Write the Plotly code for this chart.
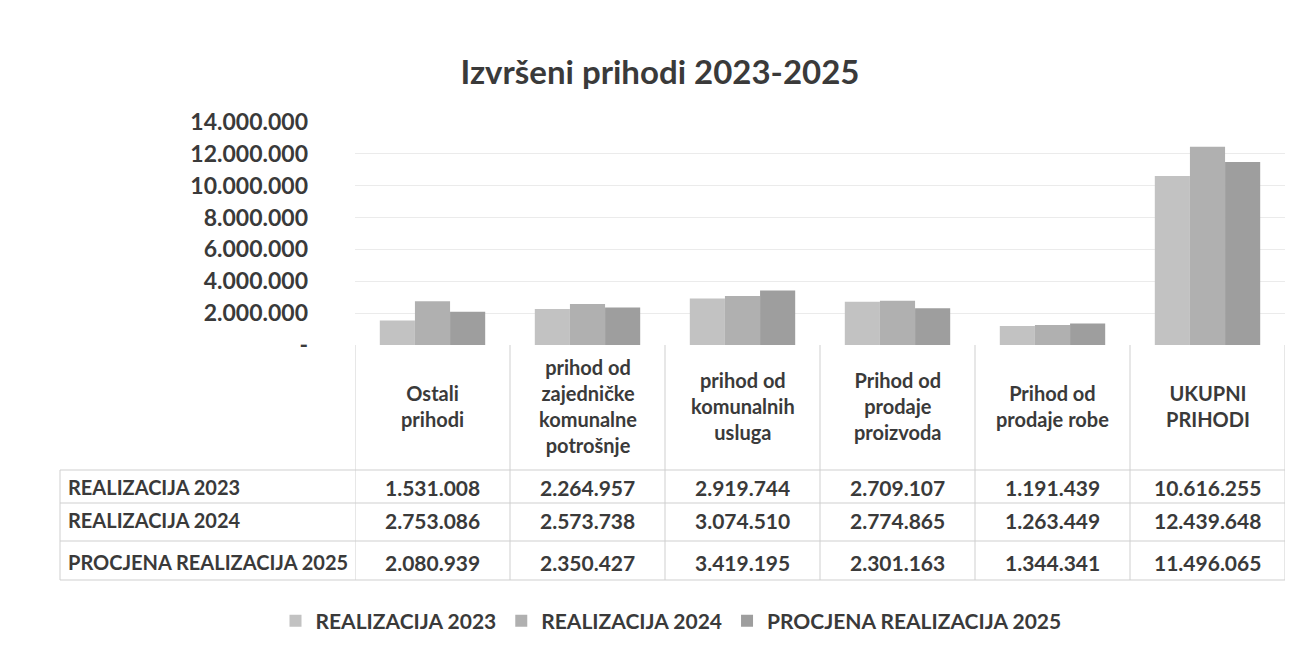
import plotly.graph_objects as go

categories = ["Ostali<br>prihodi", "prihod od<br>zajedničke<br>komunalne<br>potrošnje",
              "prihod od<br>komunalnih<br>usluga", "Prihod od<br>prodaje<br>proizvoda",
              "Prihod od<br>prodaje robe", "UKUPNI<br>PRIHODI"]
series_names = ["REALIZACIJA 2023", "REALIZACIJA 2024", "PROCJENA REALIZACIJA 2025"]
real_2023 = [1531008, 2264957, 2919744, 2709107, 1191439, 10616255]
real_2024 = [2753086, 2573738, 3074510, 2774865, 1263449, 12439648]
proc_2025 = [2080939, 2350427, 3419195, 2301163, 1344341, 11496065]
tick_vals = [0, 2000000, 4000000, 6000000, 8000000, 10000000, 12000000, 14000000]
tick_text = ["-", "2.000.000", "4.000.000", "6.000.000", "8.000.000",
             "10.000.000", "12.000.000", "14.000.000"]

colors = ["#c2c2c2", "#b0b0b0", "#9e9e9e"]
txt = "#3a3a3a"
W, H = 1301, 654
OFF = 8  # page body margin of the html


def px(x):
    return (x - OFF) / W


def py(y):
    return 1 - (y - OFF) / H


def fmt(v):
    return f"{v:,}".replace(",", ".")


x_idx = list(range(len(categories)))
fig = go.Figure()
for name, vals, c in zip(series_names, [real_2023, real_2024, proc_2025], colors):
    fig.add_trace(go.Bar(x=x_idx, y=vals, name=name, marker_color=c,
                         marker_line_width=0))

fig.update_layout(
    width=W, height=H,
    margin=dict(l=0, r=0, t=0, b=0, autoexpand=False),
    paper_bgcolor="white", plot_bgcolor="white",
    barmode="group", bargap=0.32, bargroupgap=0,
    font=dict(family="Lato, Noto Sans, sans-serif", color=txt, size=21,
              weight="bold"),
    title=dict(text="Izvršeni prihodi 2023-2025", x=px(660), xanchor="center",
               y=py(72), yanchor="middle", automargin=False,
               font=dict(size=33, color=txt, weight="bold")),
    legend=dict(orientation="h", x=px(671), xanchor="center", y=py(621),
                yanchor="middle", font=dict(size=21, color=txt, weight="bold"),
                itemwidth=30, traceorder="normal"),
    showlegend=True,
)
fig.update_xaxes(domain=[px(355), px(1285)], range=[-0.5, 5.5], automargin=False,
                 showticklabels=False, showgrid=False, zeroline=False)
fig.update_yaxes(domain=[py(345), py(122)], range=[0, 14000000], automargin=False,
                 tickvals=tick_vals, ticktext=tick_text, ticks="",
                 showgrid=True, gridcolor="#ebebeb", gridwidth=1,
                 zeroline=False, tickfont=dict(size=23, color=txt, weight="bold"),
                 ticklabelstandoff=46)

line_c = "#cfcfcf"
# column separators of the data table
for i in range(len(categories) + 1):
    fig.add_shape(type="line", xref="x", yref="paper", x0=i - 0.5, x1=i - 0.5,
                  y0=py(345), y1=py(580), line=dict(color=line_c, width=1))
# row separators
row_lines = [470, 503, 541, 580]
for yl in row_lines:
    fig.add_shape(type="line", xref="paper", yref="paper", x0=px(60), x1=px(1285),
                  y0=py(yl), y1=py(yl), line=dict(color=line_c, width=1))
fig.add_shape(type="line", xref="paper", yref="paper", x0=px(60), x1=px(60),
              y0=py(470), y1=py(580), line=dict(color=line_c, width=1))

# category headers
for i, cat in enumerate(categories):
    fig.add_annotation(x=i, y=py(406), xref="x", yref="paper", text=cat,
                       showarrow=False, font=dict(size=20, color=txt),
                       align="center", yanchor="middle")

row_y = [487, 520, 562]
for name, vals, yr in zip(series_names, [real_2023, real_2024, proc_2025], row_y):
    fig.add_annotation(x=px(66), y=py(yr), xref="paper", yref="paper", text=name,
                       showarrow=False, xanchor="left", yanchor="middle",
                       font=dict(size=20, color=txt))
    for i, v in enumerate(vals):
        fig.add_annotation(x=i, y=py(yr), xref="x", yref="paper", text=fmt(v),
                           showarrow=False, yanchor="middle",
                           font=dict(size=21, color=txt))

fig.write_html("out.html")
